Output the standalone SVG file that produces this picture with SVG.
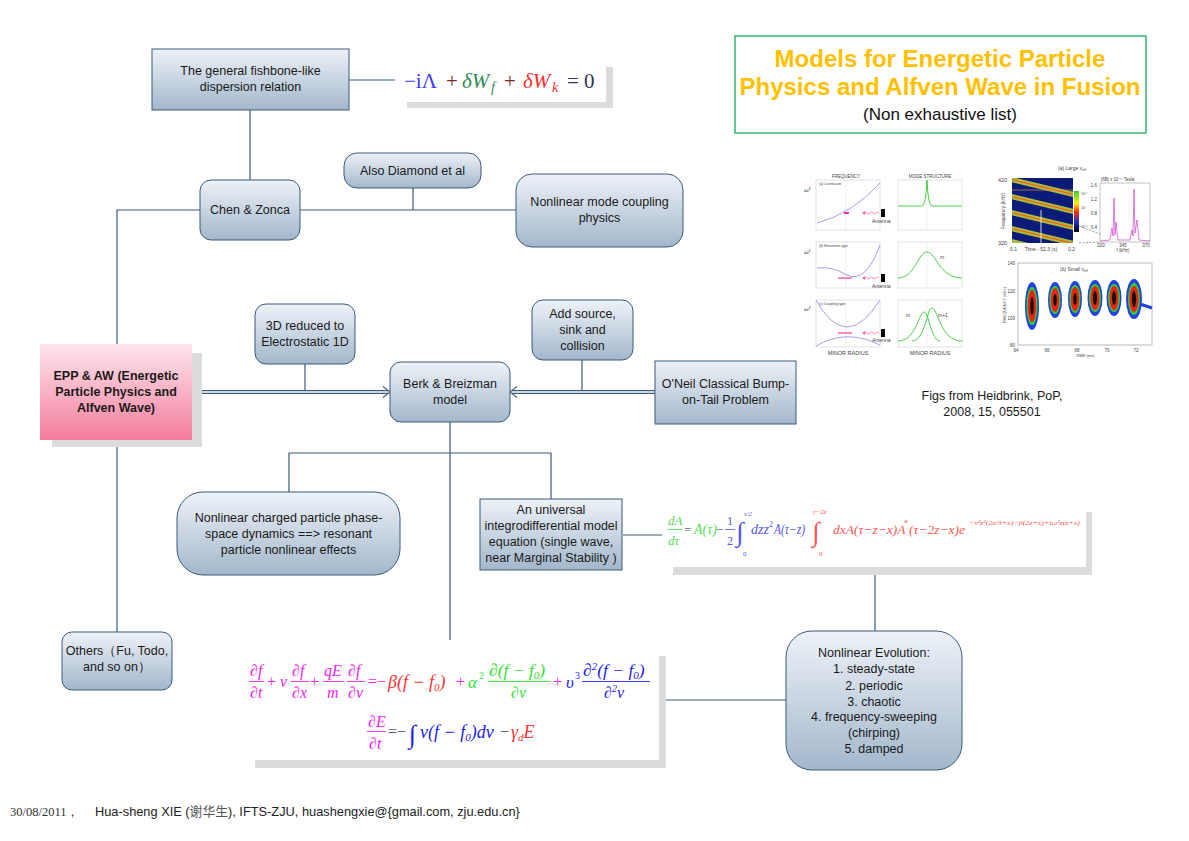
<svg xmlns="http://www.w3.org/2000/svg" width="1189" height="841" viewBox="0 0 1189 841">
<defs>
<linearGradient id="gBlue" x1="0" y1="0" x2="0" y2="1">
<stop offset="0" stop-color="#eef2f8"/><stop offset="1" stop-color="#a3b7cb"/>
</linearGradient>
<linearGradient id="gPink" x1="0" y1="0" x2="0" y2="1">
<stop offset="0" stop-color="#fde6ee"/><stop offset="1" stop-color="#f47d9c"/>
</linearGradient>
<linearGradient id="gBar" x1="0" y1="0" x2="0" y2="1">
<stop offset="0" stop-color="#33cc33"/><stop offset="0.3" stop-color="#ffee00"/><stop offset="0.5" stop-color="#ff3300"/><stop offset="0.75" stop-color="#2233cc"/><stop offset="1" stop-color="#000010"/>
</linearGradient>
<clipPath id="spec"><rect x="1012" y="178" width="61" height="65"/></clipPath>
<style>
.node{fill:url(#gBlue);stroke:#3b5b7b;stroke-width:1}
.t{font-family:"Liberation Sans",Arial,sans-serif;font-size:12.5px;fill:#1a1a1a;text-anchor:middle}
.conn{stroke:#3b5b7b;stroke-width:1.2;fill:none}
.shadow{fill:#dcdcdc}
.m{font-family:"Liberation Serif","Times New Roman",serif;font-style:italic}
.up{font-family:"Liberation Serif","Times New Roman",serif}
.f{font-family:"Liberation Sans",Arial,sans-serif;fill:#444}
.frame{fill:none;stroke:#cfcfcf;stroke-width:0.6}
</style>
</defs>
<rect width="1189" height="841" fill="#ffffff"/>

<!-- connectors -->
<g id="connectors">
<path class="conn" d="M349,80 H395"/>
<path class="conn" d="M250,110 V180"/>
<path class="conn" d="M300,210 H516"/>
<path class="conn" d="M413,188 V210"/>
<path class="conn" d="M200,210 H117 V344"/>
<path class="conn" d="M117,440 V632"/>
<path class="conn" d="M305,364 V392"/>
<path class="conn" d="M582,360 V392"/>
<path d="M192,392 H388" stroke="#3b5b7b" stroke-width="4" fill="none"/>
<path d="M192,392 H388" stroke="#ffffff" stroke-width="1.6" fill="none"/>
<path d="M383,386.5 L390,392 L383,397.5" stroke="#3b5b7b" stroke-width="1.1" fill="none"/>
<path d="M512,392 H655" stroke="#3b5b7b" stroke-width="4" fill="none"/>
<path d="M512,392 H655" stroke="#ffffff" stroke-width="1.6" fill="none"/>
<path d="M517,386.5 L510,392 L517,397.5" stroke="#3b5b7b" stroke-width="1.1" fill="none"/>
<path class="conn" d="M450,422 V640"/>
<path class="conn" d="M289,492 V453 H551 V499"/>
<path class="conn" d="M623,535 H662"/>
<path class="conn" d="M875,575 V631"/>
<path class="conn" d="M660,700 H786"/>
</g>

<!-- title -->
<g id="title">
<rect x="735" y="36" width="411" height="97" fill="#ffffff" stroke="#00a651" stroke-width="1.2"/>
<text x="940" y="67" font-family="Liberation Sans,Arial,sans-serif" font-size="24" font-weight="bold" fill="#ffc000" text-anchor="middle">Models for Energetic Particle</text>
<text x="940" y="95" font-family="Liberation Sans,Arial,sans-serif" font-size="24" font-weight="bold" fill="#ffc000" text-anchor="middle">Physics and Alfven Wave in Fusion</text>
<text x="940" y="120" font-family="Liberation Sans,Arial,sans-serif" font-size="17" fill="#111" text-anchor="middle">(Non exhaustive list)</text>
</g>

<g id="n-fishbone">
<rect class="node" x="152" y="49" width="197" height="61"/>
<text class="t" x="250.5" y="75">The general fishbone-like</text>
<text class="t" x="250.5" y="91">dispersion relation</text>
</g>

<g id="eq-fishbone">
<rect class="shadow" x="407" y="67" width="206" height="41"/>
<rect x="395" y="60" width="211" height="42" fill="#ffffff"/>
<text class="up" x="404" y="88" font-size="21" fill="#3a3aff">−iΛ</text>
<text class="up" x="446" y="88" font-size="21" fill="#7a2828">+</text>
<text class="m" x="462" y="88" font-size="21" fill="#2e8b57">δW</text>
<text class="m" x="491" y="92" font-size="14" fill="#2e8b57">f</text>
<text class="up" x="504" y="88" font-size="21" fill="#7a2828">+</text>
<text class="m" x="523" y="88" font-size="21" fill="#ff2a2a">δW</text>
<text class="m" x="552" y="92" font-size="14" fill="#ff2a2a">k</text>
<text class="up" x="567" y="88" font-size="21" fill="#333355">= 0</text>
</g>

<g id="n-chen">
<rect class="node" x="200" y="180" width="100" height="60" rx="11"/>
<text class="t" x="250" y="214">Chen &amp; Zonca</text>
</g>

<g id="n-diamond">
<rect class="node" x="344" y="153" width="137" height="35" rx="13"/>
<text class="t" x="412.5" y="175">Also Diamond et al</text>
</g>

<g id="n-modecoupling">
<rect class="node" x="516" y="174" width="167" height="73" rx="16"/>
<text class="t" x="599.5" y="206">Nonlinear mode coupling</text>
<text class="t" x="599.5" y="222">physics</text>
</g>

<g id="n-epp">
<rect class="shadow" x="52" y="353" width="150" height="94"/>
<rect x="40" y="344" width="152" height="96" fill="url(#gPink)"/>
<text class="t" x="116" y="380" font-weight="bold" font-size="13">EPP &amp; AW (Energetic</text>
<text class="t" x="116" y="396" font-weight="bold" font-size="13">Particle Physics and</text>
<text class="t" x="116" y="412" font-weight="bold" font-size="13">Alfven Wave)</text>
</g>

<g id="n-3d">
<rect class="node" x="255" y="304" width="100" height="60" rx="11"/>
<text class="t" x="305" y="330">3D reduced to</text>
<text class="t" x="305" y="346">Electrostatic 1D</text>
</g>

<g id="n-berk">
<rect class="node" x="390" y="362" width="120" height="60" rx="11"/>
<text class="t" x="450" y="388">Berk &amp; Breizman</text>
<text class="t" x="450" y="404">model</text>
</g>

<g id="n-source">
<rect class="node" x="532" y="300" width="101" height="60" rx="11"/>
<text class="t" x="582.5" y="318">Add source,</text>
<text class="t" x="582.5" y="334">sink and</text>
<text class="t" x="582.5" y="350">collision</text>
</g>

<g id="n-oneil">
<rect class="node" x="655" y="361" width="141" height="63"/>
<text class="t" x="725.5" y="388">O'Neil Classical Bump-</text>
<text class="t" x="725.5" y="404">on-Tail Problem</text>
</g>

<g id="n-phase">
<rect class="node" x="177" y="492" width="223" height="83" rx="26"/>
<text class="t" x="288.5" y="522">Nonlinear charged particle phase-</text>
<text class="t" x="288.5" y="538">space dynamics ==&gt; resonant</text>
<text class="t" x="288.5" y="554">particle nonlinear effects</text>
</g>

<g id="n-universal">
<rect class="node" x="480" y="499" width="142" height="71"/>
<text class="t" x="551" y="514">An universal</text>
<text class="t" x="551" y="530">integrodifferential model</text>
<text class="t" x="551" y="546">equation (single wave,</text>
<text class="t" x="551" y="562">near Marginal Stability )</text>
</g>

<g id="eq-integro">
<rect class="shadow" x="673" y="512" width="419" height="63"/>
<rect x="662" y="505" width="424" height="62" fill="#ffffff"/>
<text class="m" x="668" y="525" font-size="13" fill="#55dd55">dA</text>
<line x1="667" y1="529.5" x2="683" y2="529.5" stroke="#55dd55" stroke-width="0.8"/>
<text class="m" x="668" y="545" font-size="13" fill="#55dd55">dτ</text>
<text class="up" x="684" y="534" font-size="13" fill="#666">=</text>
<text class="m" x="694" y="534" font-size="14" fill="#55dd55">A(τ)</text>
<text class="up" x="716" y="534" font-size="13" fill="#666">−</text>
<text class="up" x="727" y="525" font-size="12" fill="#5555ee">1</text>
<line x1="725" y1="529.5" x2="735" y2="529.5" stroke="#5555ee" stroke-width="0.8"/>
<text class="up" x="727" y="545" font-size="12" fill="#5555ee">2</text>
<text class="up" x="736" y="541" font-size="27" fill="#5555ee">∫</text>
<text class="m" x="744" y="516" font-size="7" fill="#5555ee">τ/2</text>
<text class="up" x="743" y="556" font-size="7" fill="#5555ee">0</text>
<text class="m" x="751" y="534" font-size="14" fill="#5555ee">dzz</text>
<text class="up" x="769" y="527" font-size="8" fill="#5555ee">2</text>
<text class="m" x="774" y="534" font-size="14" fill="#5555ee" textLength="31" lengthAdjust="spacingAndGlyphs">A(τ−z)</text>
<text class="up" x="812" y="541" font-size="27" fill="#ff5555">∫</text>
<text class="m" x="813" y="514" font-size="7" fill="#ff5555">τ−2z</text>
<text class="up" x="819" y="556" font-size="7" fill="#ff5555">0</text>
<text class="m" x="833" y="534" font-size="13.5" fill="#ff5555">dxA(τ−z−x)A</text>
<text class="up" x="904" y="526" font-size="8" fill="#ff5555">*</text>
<text class="m" x="909" y="534" font-size="13.5" fill="#ff5555">(τ−2z−x)e</text>
<text class="m" x="969" y="525" font-size="7" fill="#ff5555" textLength="111" lengthAdjust="spacingAndGlyphs">−ν³z²(2z/3+x)−β(2z+x)+iω²z(z+x)</text>
</g>

<g id="n-others">
<rect class="node" x="62" y="632" width="110" height="58" rx="10"/>
<text class="t" x="117" y="655">Others（Fu, Todo,</text>
<text class="t" x="117" y="671">and so on）</text>
</g>

<g id="eq-vlasov">
<rect class="shadow" x="255" y="656" width="411" height="112"/>
<rect x="245" y="648" width="414" height="112" fill="#ffffff"/>
<g font-size="16">
<text class="m" x="250" y="676" fill="#ee22ee">∂f</text>
<line x1="249" y1="681.5" x2="264" y2="681.5" stroke="#ee22ee" stroke-width="0.9"/>
<text class="m" x="250" y="698" fill="#ee22ee">∂t</text>
<text class="up" x="267" y="687" fill="#ee22ee">+</text>
<text class="m" x="280" y="687" fill="#ee22ee">v</text>
<text class="m" x="292" y="676" fill="#ee22ee">∂f</text>
<line x1="291" y1="681.5" x2="309" y2="681.5" stroke="#ee22ee" stroke-width="0.9"/>
<text class="m" x="292" y="698" fill="#ee22ee">∂x</text>
<text class="up" x="310" y="687" fill="#ee22ee">+</text>
<text class="m" x="324" y="676" fill="#ee22ee">qE</text>
<line x1="323" y1="681.5" x2="344" y2="681.5" stroke="#ee22ee" stroke-width="0.9"/>
<text class="m" x="327" y="698" fill="#ee22ee">m</text>
<text class="m" x="348" y="676" fill="#ee22ee">∂f</text>
<line x1="347" y1="681.5" x2="365" y2="681.5" stroke="#ee22ee" stroke-width="0.9"/>
<text class="m" x="348" y="698" fill="#ee22ee">∂v</text>
<text class="up" x="368" y="687" fill="#ee22ee">=−</text>
<text class="m" x="388" y="688" font-size="18" fill="#ff3333">β(f − f<tspan font-size="11" dy="3">0</tspan><tspan dy="-3">)</tspan></text>
<text class="up" x="456" y="687" fill="#ee22ee">+</text>
<text class="m" x="468" y="688" font-size="17" fill="#33dd33">α</text>
<text class="up" x="479" y="679" font-size="10" fill="#33dd33">2</text>
<text class="m" x="489" y="676" font-size="17.5" fill="#33dd33">∂(f − f<tspan font-size="11" dy="3">0</tspan><tspan dy="-3">)</tspan></text>
<line x1="488" y1="681.5" x2="551" y2="681.5" stroke="#33dd33" stroke-width="0.9"/>
<text class="m" x="511" y="698" fill="#33dd33">∂v</text>
<text class="up" x="553" y="687" fill="#ee22ee">+</text>
<text class="m" x="566" y="688" font-size="17" fill="#2222ee">υ</text>
<text class="up" x="575" y="679" font-size="10" fill="#2222ee">3</text>
<text class="m" x="583" y="676" font-size="17.5" fill="#2222ee">∂<tspan font-size="11" dy="-6">2</tspan><tspan dy="6">(f − f</tspan><tspan font-size="11" dy="3">0</tspan><tspan dy="-3">)</tspan></text>
<line x1="582" y1="681.5" x2="650" y2="681.5" stroke="#2222ee" stroke-width="0.9"/>
<text class="m" x="604" y="698" fill="#2222ee">∂<tspan font-size="10" dy="-6">2</tspan><tspan dy="6">v</tspan></text>
<text class="m" x="368" y="727" fill="#ee22ee">∂E</text>
<line x1="367" y1="731.5" x2="386" y2="731.5" stroke="#ee22ee" stroke-width="0.9"/>
<text class="m" x="369" y="749" fill="#ee22ee">∂t</text>
<text class="up" x="388" y="737" fill="#555">=−</text>
<text class="up" x="409" y="743" font-size="26" fill="#2222ee">∫</text>
<text class="m" x="420" y="738" font-size="18" fill="#2222ee">v(f − f<tspan font-size="11" dy="3">0</tspan><tspan dy="-3">)dv</tspan></text>
<text class="up" x="500" y="737" fill="#555">−</text>
<text class="m" x="511" y="738" font-size="18" fill="#ff3333">γ<tspan font-size="11" dy="3">d</tspan><tspan dy="-3">E</tspan></text>
</g>
</g>

<g id="n-evolution">
<rect class="node" x="786" y="631" width="176" height="139" rx="26"/>
<text class="t" x="874" y="657">Nonlinear Evolution:</text>
<text class="t" x="874" y="673">1.   steady-state</text>
<text class="t" x="874" y="690">2. periodic</text>
<text class="t" x="874" y="706">3. chaotic</text>
<text class="t" x="874" y="721">4. frequency-sweeping</text>
<text class="t" x="874" y="737">(chirping)</text>
<text class="t" x="874" y="753">5. damped</text>
</g>

<!-- figure left (Heidbrink) -->
<g id="fig-left">
<text class="f" x="846" y="178" font-size="4.5" text-anchor="middle">FREQUENCY</text>
<text class="f" x="930" y="178" font-size="4.5" text-anchor="middle">MODE STRUCTURE</text>
<rect class="frame" x="816" y="180" width="64" height="50"/>
<rect class="frame" x="816" y="242" width="64" height="46"/>
<rect class="frame" x="816" y="300" width="64" height="47"/>
<rect class="frame" x="898" y="180" width="64" height="50"/>
<rect class="frame" x="898" y="242" width="64" height="46"/>
<rect class="frame" x="898" y="300" width="64" height="47"/>
<g stroke="#dddddd" stroke-width="0.5">
<line x1="846" y1="180" x2="846" y2="230"/><line x1="846" y1="242" x2="846" y2="288"/><line x1="846" y1="300" x2="846" y2="347"/>
<line x1="927" y1="180" x2="927" y2="230"/><line x1="927" y1="242" x2="927" y2="288"/><line x1="927" y1="300" x2="927" y2="347"/>
</g>
<text class="f" x="819" y="185" font-size="3.5">(a) Continuum</text>
<text class="f" x="819" y="247" font-size="3.5">(b) Extremum type</text>
<text class="f" x="819" y="305" font-size="3.5">(c) Coupling type</text>
<text class="up" x="804" y="192" font-size="7" fill="#333">ω²</text>
<text class="up" x="804" y="254" font-size="7" fill="#333">ω²</text>
<text class="up" x="804" y="311" font-size="7" fill="#333">ω²</text>
<g fill="none" stroke="#8888ee" stroke-width="0.8">
<path d="M817,223 Q852,214 880,183"/>
<path d="M817,268 Q832,266 847,275 Q866,284 880,245"/>
<path d="M816,300 Q846,354 880,300"/>
<path d="M816,346 Q846,328 880,345"/>
</g>
<g stroke="#ff3399" fill="none">
<line x1="844" y1="213" x2="849" y2="213" stroke-width="2"/>
<line x1="838" y1="278" x2="852" y2="278" stroke-width="1.2"/>
<line x1="838" y1="333" x2="852" y2="333" stroke-width="1.2"/>
<path d="M879,213 q-1.5,-2 -3,0 t-3,0 t-3,0 t-3,0 t-3,0" stroke-width="0.6"/>
<path d="M879,278 q-1.5,-2 -3,0 t-3,0 t-3,0 t-3,0 t-3,0" stroke-width="0.6"/>
<path d="M879,333 q-1.5,-2 -3,0 t-3,0 t-3,0 t-3,0 t-3,0" stroke-width="0.6"/>
</g>
<g fill="#ff3399">
<path d="M862,213 l3,-1.5 v3 z"/><path d="M862,278 l3,-1.5 v3 z"/><path d="M862,333 l3,-1.5 v3 z"/>
</g>
<g fill="#000">
<rect x="881" y="209" width="4" height="8"/><rect x="881" y="274" width="4" height="8"/><rect x="881" y="329" width="4" height="8"/>
</g>
<text class="f" x="872" y="223" font-size="5" fill="#222">Antenna</text>
<text class="f" x="872" y="288" font-size="5" fill="#222">Antenna</text>
<text class="f" x="872" y="342" font-size="5" fill="#222">Antenna</text>
<g fill="none" stroke="#33cc33" stroke-width="0.9">
<path d="M898,206 L922,206 Q926,205 927,180 Q928,205 932,206 L962,206"/>
<path d="M898,278 C915,278 918,252 927,252 C936,252 939,278 962,278"/>
<path d="M898,341 C916,341 919,312 924,312 C929,312 931,341 940,341"/>
<path d="M912,341 C925,341 927,308 932,308 C938,308 940,341 962,341"/>
</g>
<text class="f" x="940" y="259" font-size="5">m</text>
<text class="f" x="906" y="317" font-size="5">m</text>
<text class="f" x="938" y="317" font-size="5">m+1</text>
<text class="f" x="848" y="355" font-size="5.5" text-anchor="middle">MINOR RADIUS</text>
<text class="f" x="930" y="355" font-size="5.5" text-anchor="middle">MINOR RADIUS</text>
</g>

<!-- figure right -->
<g id="fig-right">
<text class="f" x="1058" y="170" font-size="5">(a) Large ν<tspan font-size="3.5" dy="1">eff</tspan></text>
<rect x="1012" y="178" width="61" height="65" fill="#0b1c78"/>
<g clip-path="url(#spec)" fill="none">
<g stroke="#b8d040" stroke-width="5" opacity="0.9">
<path d="M1005,178 L1080,196"/><path d="M1005,195 L1080,213"/><path d="M1005,211 L1080,229"/><path d="M1005,227 L1080,245"/><path d="M1005,240 L1080,258"/>
</g>
<g stroke="#ff5a10" stroke-width="1.3">
<path d="M1005,178 L1080,196"/><path d="M1005,195 L1080,213"/><path d="M1005,211 L1080,229"/><path d="M1005,227 L1080,245"/>
</g>
<line x1="1012" y1="190" x2="1073" y2="190" stroke="#ff9a40" stroke-width="0.6"/>
<line x1="1041" y1="210" x2="1041" y2="243" stroke="#ffffff" stroke-width="0.8"/>
</g>
<rect x="1074" y="191" width="5" height="41" fill="url(#gBar)"/>
<text class="f" x="1081" y="195" font-size="3.5">10⁻⁶</text>
<text class="f" x="1081" y="209" font-size="3.5">10⁻⁷</text>
<text class="f" x="1081" y="228" font-size="3.5">10⁻⁸</text>
<text class="f" x="998" y="182" font-size="5.5" fill="#222">420</text>
<text class="f" x="998" y="245" font-size="5.5" fill="#222">320</text>
<text class="f" x="1005" y="211" font-size="5" fill="#222" text-anchor="middle" transform="rotate(-90 1005 211)">Frequency (kHz)</text>
<text class="f" x="1010" y="251" font-size="5" fill="#222">0.1</text>
<text class="f" x="1041" y="251" font-size="5" fill="#222" text-anchor="middle">Time - 52.3 (s)</text>
<text class="f" x="1068" y="251" font-size="5" fill="#222">0.2</text>
<g stroke="#333" stroke-width="0.5" stroke-dasharray="2,1.5">
<line x1="1079" y1="226" x2="1100" y2="234"/><line x1="1079" y1="243" x2="1100" y2="242"/>
</g>
<rect x="1100" y="183" width="50" height="59" fill="#fff" stroke="#888" stroke-width="0.5"/>
<text class="f" x="1101" y="181" font-size="4.5" fill="#222">|δB| x 10⁻⁵ Tesla</text>
<text class="f" x="1097" y="187" font-size="4.5" text-anchor="end">1.6</text>
<text class="f" x="1097" y="201" font-size="4.5" text-anchor="end">1.2</text>
<text class="f" x="1097" y="215" font-size="4.5" text-anchor="end">0.8</text>
<text class="f" x="1097" y="229" font-size="4.5" text-anchor="end">0.4</text>
<path d="M1100,241 L1110,240 L1112,228 L1113,236 L1114,198 L1115,235 L1116,222 L1118,240 L1130,240 L1132,230 L1133,236 L1134,189 L1135,233 L1137,220 L1139,240 L1150,241" fill="none" stroke="#cc44cc" stroke-width="0.7"/>
<text class="f" x="1101" y="247" font-size="4.5" text-anchor="middle">320</text>
<text class="f" x="1123" y="247" font-size="4.5" text-anchor="middle">345</text>
<text class="f" x="1146" y="247" font-size="4.5" text-anchor="middle">370</text>
<text class="f" x="1123" y="252" font-size="4.5" text-anchor="middle">f (kHz)</text>

<rect x="1018" y="263" width="134" height="82" fill="#fff" stroke="#777" stroke-width="0.5"/>
<text class="f" x="1060" y="271" font-size="5">(b) Small ν<tspan font-size="3.5" dy="1">eff</tspan></text>
<g>
<g transform="translate(1032,306)"><ellipse rx="7" ry="24" fill="#2244dd"/><ellipse rx="5.5" ry="19" fill="#33cc33"/><ellipse rx="4.2" ry="16" fill="#ee2211"/><ellipse rx="1.8" ry="9" fill="#111"/></g>
<g transform="translate(1055,300)"><ellipse rx="7" ry="18" fill="#2244dd"/><ellipse rx="5.5" ry="14" fill="#33cc33"/><ellipse rx="4.2" ry="12" fill="#ee2211"/><ellipse rx="1.8" ry="6" fill="#111"/></g>
<g transform="translate(1075,299)"><ellipse rx="7" ry="18" fill="#2244dd"/><ellipse rx="5.5" ry="14" fill="#33cc33"/><ellipse rx="4.2" ry="12" fill="#ee2211"/><ellipse rx="1.8" ry="6" fill="#111"/></g>
<g transform="translate(1095,298)"><ellipse rx="7.5" ry="18" fill="#2244dd"/><ellipse rx="6" ry="14" fill="#33cc33"/><ellipse rx="4.5" ry="12" fill="#ee2211"/><ellipse rx="2" ry="7" fill="#111"/></g>
<g transform="translate(1114,298)"><ellipse rx="7.5" ry="18" fill="#2244dd"/><ellipse rx="6" ry="14" fill="#33cc33"/><ellipse rx="4.5" ry="12" fill="#ee2211"/><ellipse rx="2" ry="7" fill="#111"/></g>
<g transform="translate(1134,299)"><ellipse rx="8" ry="20" fill="#2244dd"/><ellipse rx="6" ry="16" fill="#33cc33"/><ellipse rx="4.6" ry="13" fill="#ee2211"/><ellipse rx="2.1" ry="8" fill="#111"/></g>
<path d="M1140,304 L1152,308" stroke="#2244dd" stroke-width="3"/>
</g>
<text class="f" x="1015" y="265" font-size="4.5" text-anchor="end">140</text>
<text class="f" x="1015" y="293" font-size="4.5" text-anchor="end">120</text>
<text class="f" x="1015" y="320" font-size="4.5" text-anchor="end">100</text>
<text class="f" x="1015" y="347" font-size="4.5" text-anchor="end">80</text>
<text class="f" x="1006" y="305" font-size="4" text-anchor="middle" transform="rotate(-90 1006 305)">FREQUENCY (kHz)</text>
<text class="f" x="1016" y="352" font-size="4.5" text-anchor="middle">64</text>
<text class="f" x="1047" y="352" font-size="4.5" text-anchor="middle">66</text>
<text class="f" x="1077" y="352" font-size="4.5" text-anchor="middle">68</text>
<text class="f" x="1107" y="352" font-size="4.5" text-anchor="middle">70</text>
<text class="f" x="1136" y="352" font-size="4.5" text-anchor="middle">72</text>
<text class="f" x="1085" y="357" font-size="4" text-anchor="middle">TIME (ms)</text>
</g>

<g id="caption">
<text class="t" x="992" y="400">Figs from Heidbrink, PoP,</text>
<text class="t" x="992" y="416">2008, 15, 055501</text>
</g>

<g id="footer">
<text x="10" y="816" font-family="Liberation Serif,serif" font-size="12.5" fill="#333">30/08/2011，</text>
<text x="95" y="816" font-family="Liberation Sans,Arial,'Noto Sans CJK SC',sans-serif" font-size="12.8" fill="#222">Hua-sheng XIE (<tspan font-family="Noto Sans CJK SC,sans-serif" fill="#555">谢华生</tspan>), IFTS-ZJU, huashengxie@{gmail.com, zju.edu.cn}</text>
</g>
</svg>
